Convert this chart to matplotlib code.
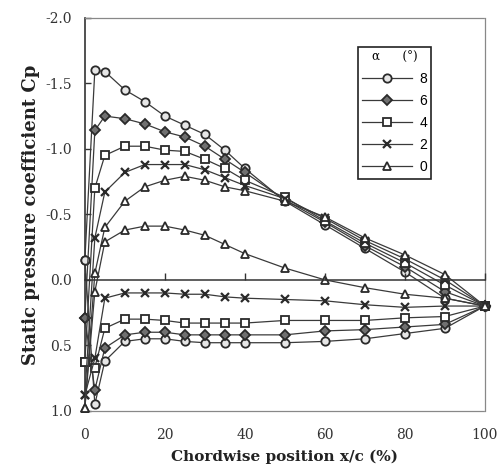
import matplotlib
matplotlib.use("Agg")
import matplotlib.pyplot as plt
from matplotlib.lines import Line2D

plt.rcParams['axes.unicode_minus'] = False
plt.rcParams['font.family'] = ['DejaVu Serif']

# chordwise positions (%)
x_pos = [0, 2.5, 5, 10, 15, 20, 25, 30, 35, 40, 50, 60, 70, 80, 90, 100]

alphas = ["8", "6", "4", "2", "0"]

# upper surface Cp
cp_upper_8 = [-0.15, -1.60, -1.59, -1.45, -1.36, -1.25, -1.18, -1.11, -0.99, -0.85, -0.60, -0.42, -0.24, -0.06, 0.14, 0.20]
cp_upper_6 = [0.29, -1.14, -1.25, -1.23, -1.19, -1.13, -1.09, -1.02, -0.92, -0.82, -0.61, -0.44, -0.26, -0.10, 0.09, 0.20]
cp_upper_4 = [0.63, -0.70, -0.95, -1.02, -1.02, -0.99, -0.98, -0.92, -0.85, -0.76, -0.63, -0.45, -0.28, -0.13, 0.04, 0.20]
cp_upper_2 = [0.88, -0.32, -0.67, -0.82, -0.88, -0.88, -0.88, -0.84, -0.78, -0.72, -0.62, -0.47, -0.30, -0.16, 0.00, 0.20]
cp_upper_0 = [0.98, -0.05, -0.40, -0.60, -0.71, -0.76, -0.79, -0.76, -0.71, -0.68, -0.60, -0.48, -0.32, -0.19, -0.04, 0.20]

# lower surface Cp
cp_lower_8 = [-0.15, 0.95, 0.62, 0.47, 0.45, 0.45, 0.47, 0.48, 0.48, 0.48, 0.48, 0.47, 0.45, 0.41, 0.37, 0.20]
cp_lower_6 = [0.29, 0.84, 0.52, 0.42, 0.40, 0.40, 0.42, 0.42, 0.42, 0.42, 0.42, 0.39, 0.38, 0.36, 0.34, 0.20]
cp_lower_4 = [0.63, 0.67, 0.37, 0.30, 0.30, 0.31, 0.33, 0.33, 0.33, 0.33, 0.31, 0.31, 0.31, 0.29, 0.28, 0.20]
cp_lower_2 = [0.88, 0.60, 0.14, 0.10, 0.10, 0.10, 0.11, 0.11, 0.13, 0.14, 0.15, 0.16, 0.19, 0.21, 0.20, 0.20]
cp_lower_0 = [0.98, 0.09, -0.29, -0.38, -0.41, -0.41, -0.38, -0.34, -0.27, -0.20, -0.09, 0.00, 0.06, 0.11, 0.14, 0.20]

upper = [cp_upper_8, cp_upper_6, cp_upper_4, cp_upper_2, cp_upper_0]
lower = [cp_lower_8, cp_lower_6, cp_lower_4, cp_lower_2, cp_lower_0]

x_ticks = [0, 20, 40, 60, 80, 100]
y_ticks = [-2.0, -1.5, -1.0, -0.5, 0.0, 0.5, 1.0]
y_tick_labels = ["-2.0", "-1.5", "-1.0", "-0.5", "0.0", "0.5", "1.0"]

line_c = '#3a3a3a'
styles = [
    dict(marker='o', markerfacecolor='#e6e6e6', markersize=6),
    dict(marker='D', markerfacecolor='#707070', markersize=4.6),
    dict(marker='s', markerfacecolor='white', markersize=5.5),
    dict(marker='x', markerfacecolor='none', markersize=6, markeredgewidth=1.6),
    dict(marker='^', markerfacecolor='white', markersize=6),
]

fig = plt.figure(figsize=(5.02, 4.69), dpi=100)
ax = fig.add_axes([0.169, 0.124, 0.797, 0.838])

handles = []
for a, up, lo, st in zip(alphas, upper, lower, styles):
    kw = dict(color=line_c, linewidth=0.9, markeredgecolor='#2a2a2a', clip_on=False, zorder=3)
    kw.update(st)
    if 'markeredgewidth' not in kw:
        kw['markeredgewidth'] = 1.3
    ax.plot(x_pos, up, **kw)
    ax.plot(x_pos, lo, **kw)
    handles.append(Line2D([], [], label=a, **kw))

ax.set_xlim(0, 100)
ax.set_ylim(1.0, -2.0)
ax.set_xticks(x_ticks)
ax.set_yticks(y_ticks)
ax.set_yticklabels(y_tick_labels)
ax.tick_params(axis='x', length=0, pad=12, labelsize=10, colors='#333333')
ax.tick_params(axis='y', direction='in', length=4, width=1, pad=9, labelsize=10,
               colors='#333333')

for s in ['top', 'right', 'bottom']:
    ax.spines[s].set_linestyle((0, (1, 1)))
    ax.spines[s].set_color('#888888')
    ax.spines[s].set_linewidth(0.9)
ax.spines['left'].set_color('#333333')
ax.spines['left'].set_linewidth(1.2)

# zero line with ticks
ax2 = ax.twiny()
ax2.set_xlim(0, 100)
ax2.set_xticks(x_ticks)
for s in ['bottom', 'left', 'right']:
    ax2.spines[s].set_visible(False)
ax2.spines['top'].set_position(('data', 0.0))
ax2.spines['top'].set_color('#333333')
ax2.spines['top'].set_linewidth(1.1)
ax2.tick_params(axis='x', direction='out', length=5, width=1, colors='#333333',
                labeltop=False)

ax.set_xlabel("Chordwise position x/c (%)", fontsize=11, fontweight='bold',
              color='#222222', labelpad=6)
ax.set_ylabel("Static pressure coefficient Cp", fontsize=13, fontweight='bold',
              color='#222222', labelpad=4)

leg = ax2.legend(handles=handles, loc='upper left', bbox_to_anchor=(0.683, 0.926),
                 borderaxespad=0,
                 title="α      (°)", fancybox=False, framealpha=1, edgecolor='#222222',
                 handlelength=3.6, handletextpad=0.5, labelspacing=0.58,
                 borderpad=0.3, prop={'family': 'Liberation Sans', 'size': 10},
                 title_fontproperties={'family': 'DejaVu Serif', 'size': 8.5},
                 numpoints=1)
leg.get_frame().set_linewidth(1.2)

fig.savefig("out.png", dpi=100, facecolor='white')
